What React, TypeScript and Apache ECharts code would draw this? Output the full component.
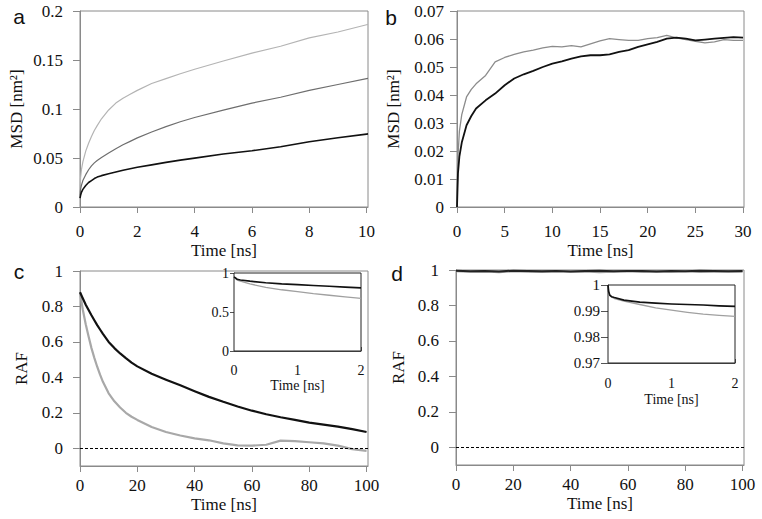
import React, { useEffect, useRef } from "react";
import * as echarts from "echarts";

// Panel a: MSD vs time (0-10 ns)
const xA = [0, 0.02, 0.05, 0.1, 0.2, 0.3, 0.4, 0.5, 0.6, 0.75, 1, 1.25, 1.5, 1.75, 2, 2.5, 3, 3.5, 4, 5, 6, 7, 8, 9, 10, 10.05];
const aLight = [0.015, 0.03, 0.038, 0.046, 0.057, 0.065, 0.072, 0.078, 0.083, 0.09, 0.099, 0.106, 0.111, 0.115, 0.119, 0.126, 0.131, 0.136, 0.1406, 0.149, 0.157, 0.164, 0.1725, 0.1786, 0.186, 0.1863];
const aMid = [0.012, 0.018, 0.022, 0.027, 0.033, 0.038, 0.042, 0.045, 0.0475, 0.0505, 0.055, 0.0595, 0.0635, 0.067, 0.0705, 0.0765, 0.082, 0.087, 0.0913, 0.0988, 0.106, 0.112, 0.119, 0.125, 0.131, 0.1313];
const aBlack = [0.009, 0.012, 0.015, 0.018, 0.022, 0.025, 0.027, 0.029, 0.0305, 0.032, 0.034, 0.0358, 0.0375, 0.039, 0.0405, 0.043, 0.0455, 0.0478, 0.0499, 0.054, 0.0574, 0.0615, 0.0666, 0.0706, 0.0744, 0.0746];
const aXTicks = [0, 2, 4, 6, 8, 10];
const aYTicks = [0, 0.05, 0.1, 0.15, 0.2];

// Panel b: MSD vs time (0-30 ns)
const xB = [0, 0.1, 0.25, 0.5, 1, 1.5, 2, 3, 4, 5, 6, 7, 8, 9, 10, 11, 12, 13, 14, 15, 16, 17, 18, 19, 20, 21, 22, 23, 24, 25, 26, 27, 28, 29, 30];
const bGray = [0, 0.018, 0.027, 0.033, 0.0393, 0.042, 0.044, 0.047, 0.0518, 0.0534, 0.0545, 0.0554, 0.056, 0.0568, 0.0574, 0.0572, 0.0576, 0.0572, 0.0583, 0.0593, 0.0601, 0.0598, 0.0595, 0.0595, 0.0601, 0.0605, 0.0613, 0.0604, 0.0598, 0.0592, 0.0586, 0.059, 0.0598, 0.0595, 0.0595];
const bBlack = [0, 0.012, 0.018, 0.023, 0.0292, 0.0325, 0.0352, 0.0381, 0.0405, 0.0435, 0.0459, 0.0474, 0.0486, 0.05, 0.0512, 0.052, 0.053, 0.0538, 0.0542, 0.0542, 0.0545, 0.0554, 0.056, 0.0572, 0.0581, 0.059, 0.0601, 0.0605, 0.0601, 0.0595, 0.0598, 0.0601, 0.0604, 0.0607, 0.0605];
const bXTicks = [0, 5, 10, 15, 20, 25, 30];
const bYTicks = [0, 0.01, 0.02, 0.03, 0.04, 0.05, 0.06, 0.07];

// Panel c: RAF vs time (0-100 ns)
const xC = [0, 1, 2, 3, 4, 5, 6, 7, 8, 10, 12, 14, 16, 18, 20, 25, 30, 35, 40, 45, 50, 55, 60, 65, 70, 75, 80, 85, 90, 95, 100];
const cBlack = [0.88, 0.845, 0.81, 0.78, 0.75, 0.722, 0.695, 0.67, 0.645, 0.6, 0.565, 0.535, 0.508, 0.483, 0.462, 0.42, 0.387, 0.355, 0.322, 0.29, 0.262, 0.236, 0.212, 0.192, 0.175, 0.16, 0.145, 0.133, 0.122, 0.108, 0.092];
const cGray = [0.88, 0.78, 0.7, 0.63, 0.565, 0.51, 0.46, 0.415, 0.375, 0.31, 0.265, 0.23, 0.2, 0.178, 0.16, 0.12, 0.092, 0.072, 0.056, 0.045, 0.028, 0.016, 0.015, 0.02, 0.043, 0.04, 0.034, 0.028, 0.015, -0.005, -0.015];
const rafXTicks = [0, 20, 40, 60, 80, 100];
const rafYTicks = [0, 0.2, 0.4, 0.6, 0.8, 1];

// Panel c inset (0-2 ns)
const xCi = [0, 0.05, 0.1, 0.25, 0.5, 0.75, 1, 1.25, 1.5, 1.75, 2];
const ciBlack = [0.95, 0.92, 0.91, 0.895, 0.875, 0.86, 0.85, 0.84, 0.83, 0.82, 0.81];
const ciGray = [0.95, 0.91, 0.895, 0.86, 0.815, 0.785, 0.76, 0.735, 0.715, 0.695, 0.675];
const insetXTicks = [0, 1, 2];
const ciYTicks = [0, 0.5, 1];

// Panel d: RAF vs time (0-100 ns)
const xD = [0, 5, 10, 15, 20, 25, 30, 35, 40, 45, 50, 55, 60, 65, 70, 75, 80, 85, 90, 95, 100];
const dBlack = [0.996, 0.993, 0.995, 0.992, 0.996, 0.994, 0.993, 0.995, 0.992, 0.994, 0.996, 0.993, 0.995, 0.994, 0.992, 0.995, 0.993, 0.996, 0.994, 0.993, 0.995];
const dGray = [0.994, 0.99, 0.992, 0.988, 0.993, 0.991, 0.989, 0.993, 0.99, 0.992, 0.988, 0.991, 0.993, 0.989, 0.992, 0.99, 0.993, 0.989, 0.991, 0.992, 0.99];

// Panel d inset (0-2 ns)
const xDi = [0, 0.01, 0.03, 0.06, 0.1, 0.25, 0.5, 0.75, 1, 1.25, 1.5, 1.75, 2];
const diBlack = [1, 0.9975, 0.996, 0.9955, 0.9952, 0.9942, 0.9934, 0.993, 0.9927, 0.9925, 0.9923, 0.992, 0.9918];
const diGray = [1, 0.9975, 0.996, 0.9953, 0.9948, 0.9938, 0.9925, 0.9912, 0.9903, 0.9895, 0.9888, 0.9883, 0.9879];
const diYTicks = [0.97, 0.98, 0.99, 1];

const SERIF = "'Liberation Serif', 'Times New Roman', serif";
const AXIS_GRAY = "#8a8a8a";

const pairs = (xs: number[], ys: number[]) => xs.map((x, i) => [x, ys[i]]);

function xAxis(grid: number, min: number, max: number, ticks: number[], o: any) {
  return {
    type: "value",
    gridIndex: grid,
    min,
    max,
    name: "Time [ns]",
    nameLocation: "middle",
    nameGap: o.nameGap,
    nameTextStyle: { fontFamily: SERIF, fontSize: o.nameSize, color: "#111" },
    splitLine: { show: false },
    axisLine: { show: true, onZero: false, lineStyle: { color: o.lineColor, width: 1 } },
    axisTick: { show: true, inside: !!o.tickInside, length: o.tickLen, customValues: ticks, lineStyle: { color: o.lineColor } },
    axisLabel: { customValues: ticks, margin: o.margin, fontFamily: SERIF, fontSize: o.fontSize, color: "#111" },
  };
}

function yAxis(grid: number, min: number, max: number, ticks: number[], o: any) {
  return {
    type: "value",
    gridIndex: grid,
    min,
    max,
    name: o.name || "",
    nameLocation: "middle",
    nameGap: o.nameGap || 0,
    nameTextStyle: { fontFamily: SERIF, fontSize: 17, color: "#111" },
    splitLine: { show: false },
    axisLine: { show: true, onZero: false, lineStyle: { color: o.lineColor, width: 1 } },
    axisTick: { show: true, inside: false, length: o.tickLen, customValues: ticks, lineStyle: { color: o.lineColor } },
    axisLabel: { customValues: ticks, margin: o.margin, fontFamily: SERIF, fontSize: o.fontSize, color: "#111" },
  };
}

function line(xi: number, yi: number, data: number[][], color: string, width: number, extra: any = {}) {
  return {
    type: "line",
    xAxisIndex: xi,
    yAxisIndex: yi,
    data,
    showSymbol: false,
    symbol: "none",
    lineStyle: { color, width, join: "round" },
    z: 3,
    ...extra,
  };
}

const zeroLine = {
  silent: true,
  symbol: ["none", "none"],
  label: { show: false },
  lineStyle: { type: [3, 2], color: "#000", width: 1 },
  data: [{ yAxis: 0 }],
};

export default function App() {
  const ref = useRef<HTMLDivElement>(null);
  useEffect(() => {
    if (!ref.current) return;
    const chart = echarts.init(ref.current, null, { renderer: "svg" });
    const mainGrid = { show: true, borderColor: AXIS_GRAY, borderWidth: 1, backgroundColor: "transparent" };
    const insetGrid = { show: true, borderColor: "#222", borderWidth: 1, backgroundColor: "#fff", z: 4 };
    const mainX = { nameGap: 35, nameSize: 17, lineColor: AXIS_GRAY, tickLen: 6, margin: 16, fontSize: 17 };
    const lowX = { nameGap: 30, nameSize: 17, lineColor: AXIS_GRAY, tickLen: 6, margin: 11, fontSize: 17 };
    const insetX = { nameGap: 27, nameSize: 14, lineColor: "#555", tickLen: 4, tickInside: true, margin: 12, fontSize: 14 };
    const option: any = {
      animation: false,
      backgroundColor: "#fff",
      grid: [
        { left: 80, top: 11, width: 288, height: 196, ...mainGrid },
        { left: 457, top: 11, width: 287, height: 196, ...mainGrid },
        { left: 80, top: 271, width: 288, height: 195, ...mainGrid },
        { left: 456, top: 270, width: 288, height: 195, ...mainGrid },
        { left: 234, top: 273, width: 127, height: 78, ...insetGrid },
        { left: 608, top: 285, width: 127, height: 78, ...insetGrid },
      ],
      xAxis: [
        xAxis(0, 0, 10.05, aXTicks, mainX),
        xAxis(1, 0, 30.1, bXTicks, mainX),
        xAxis(2, 0, 100.5, rafXTicks, lowX),
        xAxis(3, 0, 100.5, rafXTicks, lowX),
        xAxis(4, 0, 2, insetXTicks, insetX),
        xAxis(5, 0, 2, insetXTicks, { ...insetX, margin: 13, nameGap: 29 }),
      ],
      yAxis: [
        yAxis(0, 0, 0.2, aYTicks, { name: "MSD [nm²]", nameGap: 55, lineColor: AXIS_GRAY, tickLen: 7, margin: 17, fontSize: 17 }),
        yAxis(1, 0, 0.07, bYTicks, { name: "MSD [nm²]", nameGap: 55, lineColor: AXIS_GRAY, tickLen: 7, margin: 13, fontSize: 17 }),
        yAxis(2, -0.1, 1, rafYTicks, { name: "RAF", nameGap: 50, lineColor: AXIS_GRAY, tickLen: 7, margin: 17, fontSize: 17 }),
        yAxis(3, -0.1, 1, rafYTicks, { name: "RAF", nameGap: 49, lineColor: AXIS_GRAY, tickLen: 7, margin: 17, fontSize: 17 }),
        yAxis(4, 0, 1, ciYTicks, { lineColor: "#555", tickLen: 4, margin: 5, fontSize: 14 }),
        yAxis(5, 0.97, 1, diYTicks, { lineColor: "#555", tickLen: 7, margin: 8, fontSize: 15 }),
      ],
      series: [
        line(0, 0, pairs(xA, aLight), "#b4b4b4", 1.2),
        line(0, 0, pairs(xA, aMid), "#6e6e6e", 1.2),
        line(0, 0, pairs(xA, aBlack), "#111", 1.6),
        line(1, 1, pairs(xB, bGray), "#8c8c8c", 1.3),
        line(1, 1, pairs(xB, bBlack), "#111", 1.8),
        line(2, 2, pairs(xC, cGray), "#a8a8a8", 2.2, { markLine: zeroLine }),
        line(2, 2, pairs(xC, cBlack), "#111", 2.2),
        line(3, 3, pairs(xD, dGray), "#9a9a9a", 2.2, { markLine: zeroLine }),
        line(3, 3, pairs(xD, dBlack), "#222", 2),
        line(4, 4, pairs(xCi, ciGray), "#a0a0a0", 1.3, { z: 6 }),
        line(4, 4, pairs(xCi, ciBlack), "#111", 1.7, { z: 6 }),
        line(5, 5, pairs(xDi, diGray), "#a0a0a0", 1.3, { z: 6 }),
        line(5, 5, pairs(xDi, diBlack), "#111", 1.7, { z: 6 }),
      ],
      graphic: [
        { type: "text", x: 19, y: 16.5, style: { text: "a", font: "21px 'Liberation Sans', Arial, sans-serif", fill: "#111", textAlign: "center", textVerticalAlign: "middle" } },
        { type: "text", x: 391, y: 17, style: { text: "b", font: "21px 'Liberation Sans', Arial, sans-serif", fill: "#111", textAlign: "center", textVerticalAlign: "middle" } },
        { type: "text", x: 19, y: 271.5, style: { text: "c", font: "21px 'Liberation Sans', Arial, sans-serif", fill: "#111", textAlign: "center", textVerticalAlign: "middle" } },
        { type: "text", x: 397, y: 273, style: { text: "d", font: "21px 'Liberation Sans', Arial, sans-serif", fill: "#111", textAlign: "center", textVerticalAlign: "middle" } },
      ],
    };
    chart.setOption(option);
    return () => chart.dispose();
  }, []);
  return <div ref={ref} style={{ position: "fixed", left: 0, top: 0, width: 762, height: 519 }} />;
}
